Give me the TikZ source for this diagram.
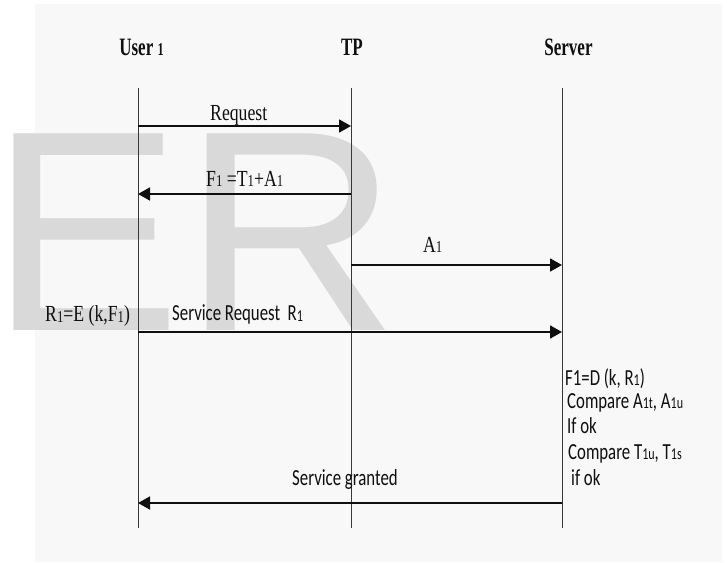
\documentclass[tikz,border=0pt]{standalone}
\usepackage{fontspec}
\usepackage{graphicx}
\usetikzlibrary{arrows.meta}
\setmainfont{Liberation Serif}
\newfontfamily\hdrface[FakeStretch=0.68]{Liberation Serif}
\newfontfamily\labface[FakeStretch=0.77]{Liberation Serif}
\newfontfamily\noteface[FakeStretch=0.73]{Carlito}
\newfontfamily\markface{Liberation Sans}
% small index digits/letters sitting on the baseline
\newcommand\lo[1]{\raisebox{-0.8pt}{\scalebox{0.72}{#1}}}

\definecolor{bgpanel}{RGB}{248,248,248}
\definecolor{wmgray}{RGB}{217,217,217}
\definecolor{ink}{RGB}{15,15,15}
\definecolor{lifeline}{RGB}{55,55,55}

\tikzset{
  life/.style={draw=lifeline, line width=0.9pt},
  msg/.style={draw=ink, line width=1.8pt, -{Triangle[length=12pt,width=13pt]}},
  hdr/.style={font=\hdrface\bfseries\fontsize{25pt}{30pt}\selectfont, text=ink, inner sep=0pt, anchor=base},
  lab/.style={font=\labface\fontsize{23pt}{27pt}\selectfont, text=ink, inner sep=0pt, anchor=base west},
  note/.style={font=\noteface\fontsize{23pt}{27pt}\selectfont, text=ink, inner sep=0pt, anchor=base west},
  wmark/.style={font=\markface\fontsize{286pt}{300pt}\selectfont, text=wmgray, inner sep=0pt, anchor=base west}
}

\begin{document}
\begin{tikzpicture}[x=1pt,y=-1pt]
\useasboundingbox (0,0) rectangle (727,562);
\fill[white] (0,0) rectangle (727,562);
\fill[bgpanel] (35,4) rectangle (722,562);

% watermark letters behind the chart
\node[wmark] (markE) at (-9.6,330) {E};
\node[wmark, xscale=1.05] (markR) at (182,330) {R};

% participants
\node[hdr] (hU) at (141.5,55) {User \lo{1}};
\node[hdr] (hT) at (352,55) {TP};
\node[hdr] (hS) at (568.5,55) {Server};

% lifelines
\coordinate (Utop) at (138,88);  \coordinate (Ubot) at (138,528);
\coordinate (Ttop) at (351,88);  \coordinate (Tbot) at (351,528);
\coordinate (Stop) at (562,88);  \coordinate (Sbot) at (562,528);
\draw[life] (Utop) -- (Ubot);
\draw[life] (Ttop) -- (Tbot);
\draw[life] (Stop) -- (Sbot);

% message end points on the lifelines
\coordinate (u1) at (138,126); \coordinate (t1) at (351,126);
\coordinate (u2) at (138,194); \coordinate (t2) at (351,194);
\coordinate (t3) at (351,265); \coordinate (s3) at (562,265);
\coordinate (u4) at (138,332); \coordinate (s4) at (562,332);
\coordinate (u5) at (138,503); \coordinate (s5) at (562,503);

% messages
\draw[msg] (u1) -- (t1);
\draw[msg] (t2) -- (u2);
\draw[msg] (t3) -- (s3);
\draw[msg] (u4) -- (s4);
\draw[msg] (s5) -- (u5);

% message labels
\node[lab] (lReq) at (210,120) {Request};
\node[lab] (lF) at (206,186) {F\lo{1} =T\lo{1}+A\lo{1}};
\node[lab] (lA) at (423,252) {A\lo{1}};
\node[lab] (lR) at (45,321.5) {R\lo{1}=E (k,F\lo{1})};
\node[note] (lSR) at (172,320.7) {Service Request\ \ R\lo{1}};
\node[note] (lSG) at (292,485) {Service granted};

% server-side processing
\node[note] (s1) at (565,385) {F1=D (k, R\lo{1})};
\node[note] (s2) at (567,408) {Compare A\lo{1t}, A\lo{1u}};
\node[note] (s3n) at (567,433) {If ok};
\node[note] (s4n) at (568,459) {Compare T\lo{1u}, T\lo{1s}};
\node[note] (s5n) at (571,485) {if ok};
\end{tikzpicture}
\end{document}
